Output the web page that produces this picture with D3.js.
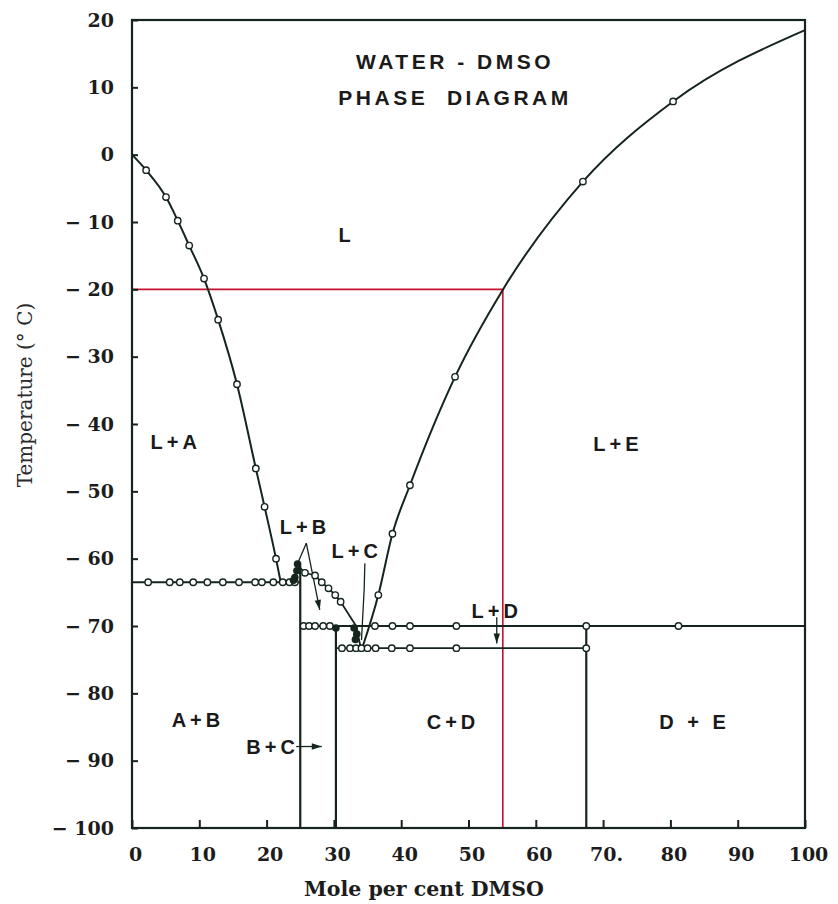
<!DOCTYPE html>
<html><head><meta charset="utf-8">
<script src="https://cdn.jsdelivr.net/npm/d3@7"></script>
<style>body{margin:0;background:#fff}</style>
</head><body>
<svg id="c" width="838" height="904"></svg>
<script>
// ---- data ----
const xTicks = [0,10,20,30,40,50,60,70,80,90,100];
const xTickLabels = ["0","10","20","30","40","50","60","70.","80","90","100"];
const yTicks = [20,10,0,-10,-20,-30,-40,-50,-60,-70,-80,-90,-100];
const yTickLabels = ["20","10","0","− 10","− 20","− 30","− 40","− 50","− 60","− 70","− 80","− 90","− 100"];

// ice liquidus (mol % DMSO, °C)
const iceCurve = [[0,0],[2.1,-2.3],[5.05,-6.3],[6.8,-9.8],[8.5,-13.5],[10.7,-18.4],[12.8,-24.5],[15.6,-34.1],[18.4,-46.6],[19.7,-52.3],[21.4,-60.0],[22.1,-63.5]];
const iceObs = [[2.1,-2.3],[5.05,-6.3],[6.8,-9.8],[8.5,-13.5],[10.7,-18.4],[12.8,-24.5],[15.6,-34.1],[18.4,-46.6],[19.7,-52.3],[21.4,-60.0]];
// DMSO liquidus
const dmsoCurve = [[34.2,-73.3],[36.6,-65.4],[38.7,-56.3],[41.3,-49.1],[48.0,-33.0],[55.2,-19.9],[67.0,-4.0],[80.4,7.9],[100,18.5]];
const dmsoObs = [[36.6,-65.4],[38.7,-56.3],[41.3,-49.1],[48.0,-33.0],[67.0,-4.0],[80.4,7.9]];
// compound B liquidus
const bCurve = [[24.6,-61.0],[25.7,-62.1],[27.2,-62.5],[28.2,-63.5],[29.2,-64.4],[30.2,-65.4],[31.0,-66.4],[33.3,-70.0]];
const bObs = [[25.7,-62.1],[27.2,-62.5],[28.2,-63.5],[29.2,-64.4],[30.2,-65.4],[31.0,-66.4]];
// compound C liquidus
const cCurve = [[33.3,-70.0],[34.0,-73.3]];

// horizontal invariant lines
const tieLines = [{x1:0,x2:25,t:-63.5},{x1:25,x2:100,t:-70},{x1:30.3,x2:67.5,t:-73.3}];
const eut63Obs = [2.4,5.6,7.1,9.1,11.2,13.5,15.9,18.3,19.3,21.0,22.4,23.4,24.2];
const per70Obs = [25.5,26.3,27.2,28.4,29.4,36.1,38.7,41.3,48.2,67.5,81.2];
const eut73Obs = [31.2,32.4,33.3,34.1,35.0,36.2,38.6,41.3,48.2,67.5];
// compound verticals
const compounds = [{x:25,top:-61.0},{x:30.3,top:-70},{x:67.5,top:-70}];
// clustered (solid) points
const blobs = [[24.2,-62.8],[24.5,-61.8],[24.6,-60.8],[24.0,-63.2],[30.3,-70.3],[33.0,-70.3],[33.4,-71.2],[33.2,-72.0]];
// red guide
const redT = -20, redX = 55.1;

const title = ["WATER - DMSO","PHASE  DIAGRAM"];
const titlePos = [[48.0,13.9],[48.0,8.5]];
const regionLabels = [
  {t:"L",x:31.9,y:-12.0},{t:"L+A",x:6.5,y:-42.6},{t:"L+E",x:72.2,y:-42.9},
  {t:"L+B",x:25.7,y:-55.3},{t:"L+C",x:33.4,y:-58.9},{t:"L+D",x:54.2,y:-67.7},
  {t:"A+B",x:9.8,y:-83.9},{t:"B+C",x:20.9,y:-87.9},{t:"C+D",x:47.7,y:-84.2},{t:"D + E",x:83.6,y:-84.2}
];
// pointer lines [from, to, arrowhead?]
const pointers = [
  {p:[[25.9,-57.7],[24.7,-60.5]],head:false},
  {p:[[25.9,-57.7],[27.9,-67.6]],head:true},
  {p:[[34.6,-60.7],[34.5,-64.5],[34.1,-72.1]],head:false},
  {p:[[54.2,-68.7],[54.2,-72.6]],head:true},
  {p:[[24.4,-87.9],[28.2,-87.9]],head:true}
];

// ---- drawing ----
const svg = d3.select("#c");
const ink = "#15241d";
const x = d3.scaleLinear().domain([0,100]).range([132,805]);
const y = d3.scaleLinear().domain([-100,20]).range([828,20]);
const line = d3.line().x(d=>x(d[0])).y(d=>y(d[1]));

// red guides
svg.append("path").attr("d", line([[0,redT],[redX,redT],[redX,-100]]))
  .attr("fill","none").attr("stroke","#c4122f").attr("stroke-width",1.6);

// frame
svg.append("rect").attr("x",x(0)).attr("y",y(20)).attr("width",x(100)-x(0)).attr("height",y(-100)-y(20))
  .attr("fill","none").attr("stroke",ink).attr("stroke-width",2.2);

// axes
const xAxis = d3.axisBottom(x).tickValues(xTicks).tickSize(-8).tickPadding(20)
  .tickFormat((d,i)=>xTickLabels[i]);
const gx = svg.append("g").attr("transform",`translate(0,${y(-100)})`).call(xAxis);
const yAxis = d3.axisLeft(y).tickValues(yTicks).tickSize(-6).tickPadding(18)
  .tickFormat((d,i)=>yTickLabels[i]);
const gy = svg.append("g").attr("transform",`translate(${x(0)},0)`).call(yAxis);
[gx,gy].forEach(g=>{
  g.select(".domain").remove();
  g.selectAll("line").attr("stroke",ink).attr("stroke-width",2);
  g.selectAll("text").attr("fill","#1c1c1c").attr("font-family","DejaVu Serif")
   .attr("font-size",19).attr("font-weight","bold");
});
gx.selectAll("text").attr("dx",3);

// axis titles
svg.append("text").attr("x",424).attr("y",896).attr("text-anchor","middle")
  .attr("font-family","DejaVu Serif").attr("font-weight","bold").attr("font-size",20.5).attr("fill","#1c1c1c").text("Mole per cent DMSO");
svg.append("text").attr("transform","translate(32,395) rotate(-90)").attr("text-anchor","middle")
  .attr("font-family","DejaVu Serif").attr("font-size",20).attr("fill","#2a2a2a").text("Temperature (° C)");

// tie lines and verticals
svg.selectAll(".tie").data(tieLines).join("line")
  .attr("x1",d=>x(d.x1)).attr("x2",d=>x(d.x2)).attr("y1",d=>y(d.t)).attr("y2",d=>y(d.t))
  .attr("stroke",ink).attr("stroke-width",1.8);
svg.selectAll(".cmp").data(compounds).join("line")
  .attr("x1",d=>x(d.x)).attr("x2",d=>x(d.x)).attr("y1",d=>y(d.top)).attr("y2",y(-100))
  .attr("stroke",ink).attr("stroke-width",2.2);

// curves
const smooth = d3.line().x(d=>x(d[0])).y(d=>y(d[1])).curve(d3.curveMonotoneX);
[iceCurve,dmsoCurve].forEach(c=>svg.append("path").attr("d",smooth(c)).attr("fill","none").attr("stroke",ink).attr("stroke-width",2));
[bCurve,cCurve].forEach(c=>svg.append("path").attr("d",line(c)).attr("fill","none").attr("stroke",ink).attr("stroke-width",1.8));

// pointers
pointers.forEach(pt=>{
  svg.append("path").attr("d",line(pt.p)).attr("fill","none").attr("stroke",ink).attr("stroke-width",1.3);
  if(pt.head){
    const a = pt.p[pt.p.length-2], b = pt.p[pt.p.length-1];
    const ax=x(a[0]),ay=y(a[1]),bx=x(b[0]),by=y(b[1]);
    const ang=Math.atan2(by-ay,bx-ax), L=10, W=3.2;
    const cx=bx-L*Math.cos(ang), cy=by-L*Math.sin(ang);
    const px=-Math.sin(ang)*W, py=Math.cos(ang)*W;
    svg.append("path").attr("d",`M${bx},${by}L${cx+px},${cy+py}L${cx-px},${cy-py}Z`).attr("fill",ink);
  }
});

// observation circles
const obs = [].concat(
  iceObs, dmsoObs, bObs,
  eut63Obs.map(v=>[v,-63.5]), per70Obs.map(v=>[v,-70]), eut73Obs.map(v=>[v,-73.3])
);
svg.selectAll(".obs").data(obs).join("circle")
  .attr("cx",d=>x(d[0])).attr("cy",d=>y(d[1])).attr("r",3.2)
  .attr("fill","#fff").attr("stroke",ink).attr("stroke-width",1.4);
svg.selectAll(".blob").data(blobs).join("circle")
  .attr("cx",d=>x(d[0])).attr("cy",d=>y(d[1])).attr("r",3.8).attr("fill",ink);

// labels
const lab = (t,px,py)=>svg.append("text").attr("x",px).attr("y",py).attr("text-anchor","middle")
  .attr("dominant-baseline","central").attr("font-family","Liberation Sans").attr("font-weight","bold")
  .attr("font-size",20).attr("fill","#1a1a1a").attr("letter-spacing",4).text(t);
title.forEach((t,i)=>lab(t,x(titlePos[i][0]),y(titlePos[i][1])).attr("letter-spacing",3.5).attr("font-size",21).style("white-space","pre"));
regionLabels.forEach(d=>lab(d.t,x(d.x),y(d.y)));
</script>
</body></html>
